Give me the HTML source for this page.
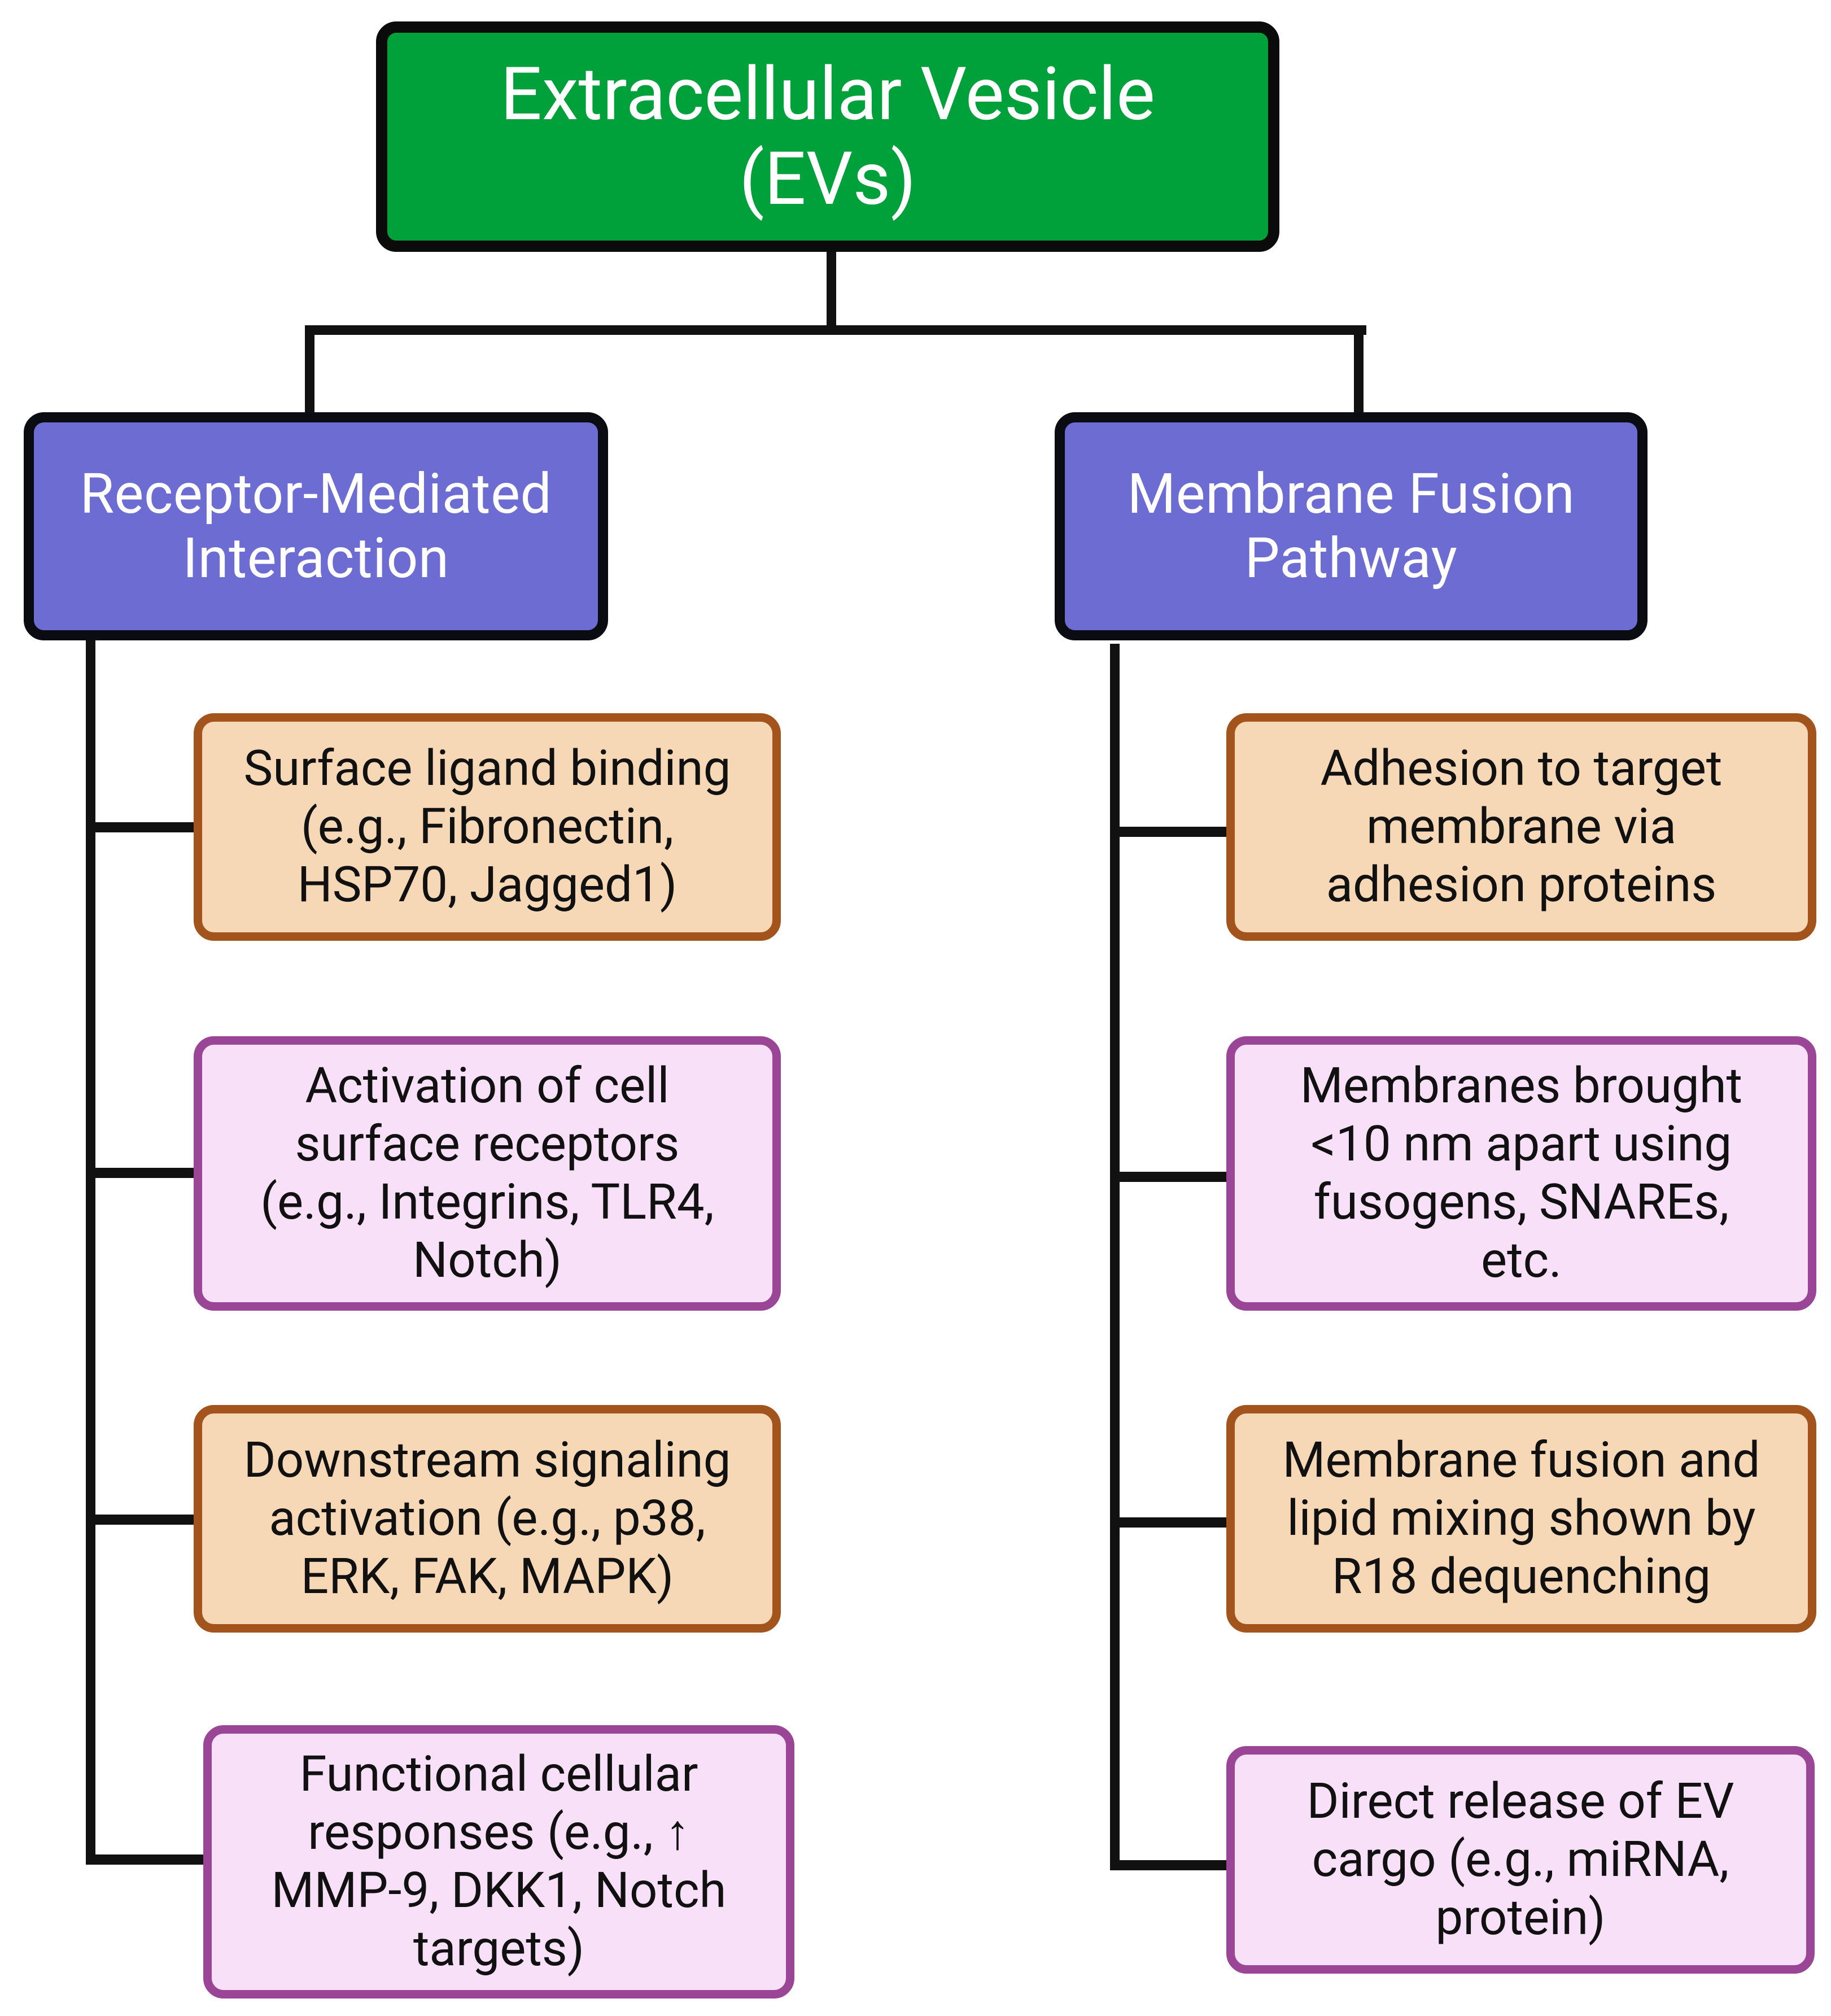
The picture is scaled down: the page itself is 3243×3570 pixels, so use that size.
<!DOCTYPE html>
<html><head><meta charset="utf-8"><style>
html,body{margin:0;padding:0;background:#fff}
body{width:3243px;height:3570px;position:relative;overflow:hidden;font-family:"Roboto","Liberation Sans",sans-serif}
.b{position:absolute;box-sizing:border-box;display:flex;align-items:center;justify-content:center;text-align:center;border-radius:36px}
.l{position:absolute;background:#111}
.o{background:#f6d8b6;border:15px solid #a3541c;color:#111;font-size:87px;line-height:103px;letter-spacing:0px}
.p{background:#f9e0f9;border:15px solid #9b4597;color:#111;font-size:87px;line-height:103px;letter-spacing:0px}
.u{background:#6c6cd2;border:18px solid #0b0b12;color:#fff;font-size:98px;line-height:114px;letter-spacing:0.5px}
</style></head><body>
<div class="l" style="left:1464px;top:440px;width:17px;height:150px"></div>
<div class="l" style="left:540px;top:576px;width:1880px;height:17px"></div>
<div class="l" style="left:540px;top:576px;width:17px;height:160px"></div>
<div class="l" style="left:2398px;top:576px;width:17px;height:160px"></div>
<div class="l" style="left:152px;top:1130px;width:17px;height:2172px"></div>
<div class="l" style="left:1966px;top:1140px;width:17px;height:2172px"></div>
<div class="l" style="left:152px;top:1456px;width:200px;height:18px"></div>
<div class="l" style="left:152px;top:2068px;width:200px;height:18px"></div>
<div class="l" style="left:152px;top:2682px;width:200px;height:18px"></div>
<div class="l" style="left:152px;top:3284px;width:215px;height:18px"></div>
<div class="l" style="left:1966px;top:1464px;width:222px;height:18px"></div>
<div class="l" style="left:1966px;top:2075px;width:222px;height:18px"></div>
<div class="l" style="left:1966px;top:2687px;width:222px;height:18px"></div>
<div class="l" style="left:1966px;top:3294px;width:222px;height:18px"></div>

<div class="b" style="left:666px;top:38px;width:1600px;height:408px;background:#00a03a;border:20px solid #0b0b0b;color:#fff;font-size:130px;line-height:150px;letter-spacing:0px">Extracellular Vesicle<br>(EVs)</div>

<div class="b u" style="left:42px;top:730px;width:1035px;height:404px">Receptor-Mediated<br>Interaction</div>
<div class="b u" style="left:1868px;top:730px;width:1050px;height:404px">Membrane Fusion<br>Pathway</div>

<div class="b o" style="left:343px;top:1263px;width:1040px;height:403px">Surface ligand binding<br>(e.g., Fibronectin,<br>HSP70, Jagged1)</div>
<div class="b p" style="left:343px;top:1835px;width:1040px;height:486px">Activation of cell<br>surface receptors<br>(e.g., Integrins, TLR4,<br>Notch)</div>
<div class="b o" style="left:343px;top:2488px;width:1040px;height:403px">Downstream signaling<br>activation (e.g., p38,<br>ERK, FAK, MAPK)</div>
<div class="b p" style="left:360px;top:3055px;width:1047px;height:484px">Functional cellular<br>responses (e.g., ↑<br>MMP-9, DKK1, Notch<br>targets)</div>

<div class="b o" style="left:2172px;top:1263px;width:1045px;height:403px">Adhesion to target<br>membrane via<br>adhesion proteins</div>
<div class="b p" style="left:2172px;top:1835px;width:1045px;height:486px">Membranes brought<br>&lt;10 nm apart using<br>fusogens, SNAREs,<br>etc.</div>
<div class="b o" style="left:2172px;top:2488px;width:1045px;height:403px">Membrane fusion and<br>lipid mixing shown by<br>R18 dequenching</div>
<div class="b p" style="left:2172px;top:3092px;width:1042px;height:403px">Direct release of EV<br>cargo (e.g., miRNA,<br>protein)</div>
</body></html>
